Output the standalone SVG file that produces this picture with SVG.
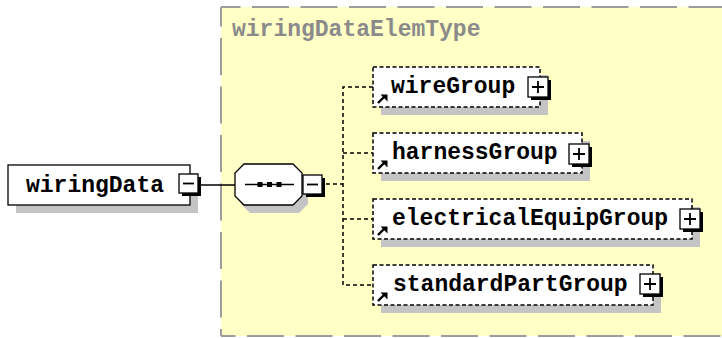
<svg xmlns="http://www.w3.org/2000/svg" width="722" height="338" viewBox="0 0 722 338">
  <style>
    .lbl { font-family: "Liberation Mono", "DejaVu Sans Mono", monospace; font-size: 23px; font-weight: bold; fill: #000; }
    .title { font-family: "Liberation Mono", "DejaVu Sans Mono", monospace; font-size: 23px; font-weight: bold; fill: #8a8a8a; }
    .shadow { fill: #c4c4c4; }
    .frame { stroke: #9c9c9c; stroke-width: 2; stroke-dasharray: 37 11.5; fill: none; }
    .node { fill: #fff; stroke: #000; stroke-width: 1.3; }
    .opt { fill: #fff; stroke: #000; stroke-width: 1.5; stroke-dasharray: 4 2.5; }
    .wire { fill: none; stroke: #000; stroke-width: 1.4; }
    .dash { fill: none; stroke: #000; stroke-width: 1.5; stroke-dasharray: 4 3; }
    .btn { fill: #fff; stroke: #000; stroke-width: 1.3; }
    .btnsh { fill: #000; }
    .sign { stroke: #000; stroke-width: 1.8; fill: none; }
  </style>
  <defs>
    <!-- expand (+) button -->
    <g id="plus">
      <rect class="btnsh" x="3" y="3" width="20" height="20"/>
      <rect class="btn" x="0" y="0" width="20" height="20"/>
      <path class="sign" d="M4 10H16M10 4V16"/>
    </g>
    <!-- collapse (-) button -->
    <g id="minus">
      <rect class="btnsh" x="3" y="3" width="19" height="19"/>
      <rect class="btn" x="0" y="0" width="19" height="19"/>
      <path class="sign" d="M4 9.5H15"/>
    </g>
    <!-- reference arrow icon -->
    <g id="ref">
      <path d="M5 36L11 30" stroke="#000" stroke-width="2.4" fill="none"/>
      <path d="M7.5 27.5H14.5V34.5Z" fill="#000"/>
    </g>
  </defs>

  <!-- complex type frame -->
  <g id="wiringDataElemType">
    <rect x="221" y="7" width="510" height="329" fill="#ffffc6"/>
    <path class="frame" d="M221 7H722" stroke-dashoffset="17.5"/>
    <path class="frame" d="M221 7V336" stroke-dashoffset="17.5"/>
    <path class="frame" d="M221 336H722" stroke-dashoffset="22.5"/>
    <text class="title" x="232" y="36">wiringDataElemType</text>
  </g>

  <!-- connectors -->
  <g id="connectors">
    <path class="wire" d="M200 185H235"/>
    <path class="dash" d="M326 184H343"/>
    <path class="dash" d="M373 87H343V285H373"/>
    <path class="dash" d="M343 153H373"/>
    <path class="dash" d="M343 219H373"/>
  </g>

  <!-- root element -->
  <g id="wiringData">
    <rect class="shadow" x="16" y="173" width="182" height="40"/>
    <rect class="node" x="8" y="165" width="182" height="40"/>
    <text class="lbl" x="26" y="192">wiringData</text>
    <use href="#minus" x="179" y="174"/>
  </g>

  <!-- sequence compositor -->
  <g id="sequence">
    <polygon class="shadow" points="250,172 299,172 308,181 308,204 299,213 250,213 241,204 241,181"/>
    <polygon class="node" points="244,164 293,164 302,173 302,196 293,205 244,205 235,196 235,173"/>
    <path d="M245 184.5H294" stroke="#000" stroke-width="1.3"/>
    <rect x="257.5" y="182" width="5" height="5" fill="#000"/>
    <rect x="267" y="182" width="5" height="5" fill="#000"/>
    <rect x="276.5" y="182" width="5" height="5" fill="#000"/>
    <use href="#minus" x="303" y="175"/>
  </g>

  <g id="wireGroup">
    <rect class="shadow" x="381" y="75" width="167" height="40"/>
    <rect class="opt" x="373" y="67" width="167" height="40"/>
    <text class="lbl" x="391" y="93">wireGroup</text>
    <use href="#ref" x="373" y="67"/>
    <use href="#plus" x="528" y="77"/>
  </g>

  <g id="harnessGroup">
    <rect class="shadow" x="381" y="141" width="209" height="40"/>
    <rect class="opt" x="373" y="133" width="209" height="40"/>
    <text class="lbl" x="392" y="159">harnessGroup</text>
    <use href="#ref" x="373" y="133"/>
    <use href="#plus" x="569" y="144"/>
  </g>

  <g id="electricalEquipGroup">
    <rect class="shadow" x="381" y="207" width="319" height="40"/>
    <rect class="opt" x="373" y="199" width="319" height="40"/>
    <text class="lbl" x="392" y="225">electricalEquipGroup</text>
    <use href="#ref" x="373" y="199"/>
    <use href="#plus" x="680" y="209"/>
  </g>

  <g id="standardPartGroup">
    <rect class="shadow" x="381" y="273" width="280" height="40"/>
    <rect class="opt" x="373" y="265" width="280" height="40"/>
    <text class="lbl" x="393" y="291">standardPartGroup</text>
    <use href="#ref" x="373" y="265"/>
    <use href="#plus" x="640" y="274"/>
  </g>
</svg>
